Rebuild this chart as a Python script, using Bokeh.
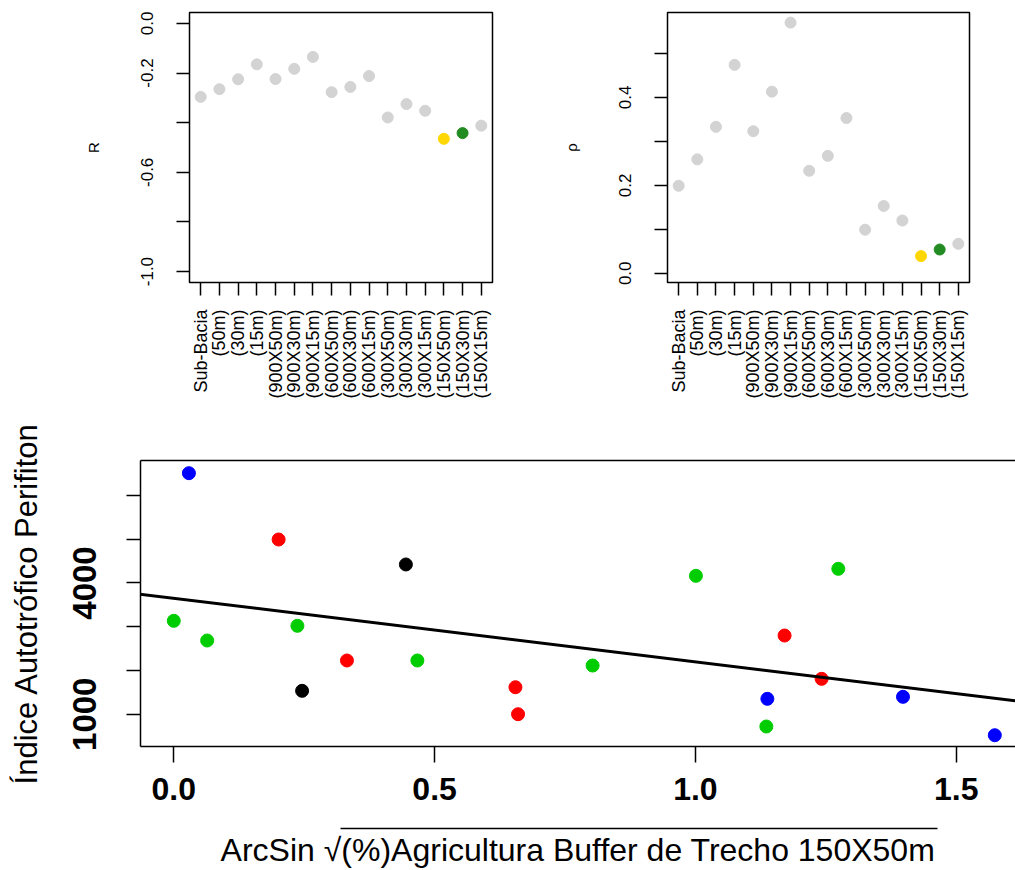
import numpy as np
from bokeh.plotting import figure
from bokeh.layouts import column, row
from bokeh.models import FixedTicker, Range1d, LinearAxis, Slope
from bokeh.embed import file_html
from bokeh.resources import INLINE

# ---------------- data ----------------
escalas = ["Sub-Bacia", "(50m)", "(30m)", "(15m)", "(900X50m)", "(900X30m)",
           "(900X15m)", "(600X50m)", "(600X30m)", "(600X15m)", "(300X50m)",
           "(300X30m)", "(300X15m)", "(150X50m)", "(150X30m)", "(150X15m)"]
r_valores = [-0.296, -0.265, -0.225, -0.165, -0.224, -0.183, -0.135, -0.277,
             -0.256, -0.212, -0.379, -0.325, -0.352, -0.465, -0.442, -0.412]
p_valores = [0.199, 0.259, 0.333, 0.474, 0.323, 0.413, 0.570, 0.233,
             0.267, 0.353, 0.099, 0.153, 0.120, 0.039, 0.054, 0.067]

r_ticks = [0.0, -0.2, -0.4, -0.6, -0.8, -1.0]
r_tick_labels = ["0.0", "-0.2", "", "-0.6", "", "-1.0"]
p_ticks = [0.0, 0.1, 0.2, 0.3, 0.4, 0.5]
p_tick_labels = ["0.0", "", "0.2", "", "0.4", ""]

x_agric = [0.029, 1.138, 1.398, 1.574,
           0.201, 0.332, 0.655, 0.660, 1.171, 1.242,
           0.000, 0.064, 0.237, 0.467, 0.803, 1.001, 1.274, 1.136,
           0.445, 0.246]
y_indice = [6510, 1352, 1398, 520,
            4994, 2228, 1617, 1000, 2799, 1809,
            3135, 2685, 3021, 2228, 2113, 4164, 4324, 719,
            4423, 1535]
grupo = ["azul"] * 4 + ["vermelho"] * 6 + ["verde"] * 8 + ["preto"] * 2

x_ticks = [0.0, 0.5, 1.0, 1.5]
x_tick_labels = ["0.0", "0.5", "1.0", "1.5"]
y_ticks = [1000, 2000, 3000, 4000, 5000, 6000]
y_tick_labels = ["1000", "", "", "4000", "", ""]

# ---------------- styles ----------------
FONT = "Liberation Sans"
destaque = {"(150X50m)": "#FFD700", "(150X30m)": "#228B22"}
cinza = "#D3D3D3"
paleta = {"azul": "#0000FF", "vermelho": "#FF0000", "verde": "#00CD00", "preto": "#000000"}


def top_fig(vals, yr, yticks, ylabels, ylab, width, mb_left, mb_right):
    p = figure(width=width, height=420, x_range=Range1d(0.4, 16.6), y_range=Range1d(*yr),
               output_backend="svg", toolbar_location=None,
               min_border_left=mb_left, min_border_right=mb_right,
               min_border_top=12, min_border_bottom=138)
    p.grid.visible = False
    p.outline_line_color = "black"
    p.outline_line_width = 1.5
    p.outline_line_alpha = 1.0
    cores = [destaque.get(c, cinza) for c in escalas]
    xs = list(range(1, len(escalas) + 1))
    p.scatter(x=xs, y=vals, size=11, fill_color=cores, line_color=cores)

    xa = p.xaxis[0]
    xa.ticker = FixedTicker(ticks=xs)
    xa.major_label_overrides = {i: n for i, n in zip(xs, escalas)}
    xa.major_label_orientation = np.pi / 2
    xa.major_label_text_font = FONT
    xa.major_label_text_font_size = "18px"
    xa.major_label_text_color = "black"
    xa.major_label_standoff = 14
    xa.axis_line_color = None
    xa.major_tick_out = 13
    xa.major_tick_in = 0
    xa.major_tick_line_width = 1.5
    xa.minor_tick_line_color = None

    ya = p.yaxis[0]
    ya.ticker = FixedTicker(ticks=yticks)
    ya.major_label_overrides = {t: l for t, l in zip(yticks, ylabels)}
    ya.major_label_orientation = "vertical"
    ya.major_label_text_font = FONT
    ya.major_label_text_font_size = "17px"
    ya.major_label_text_color = "black"
    ya.major_label_standoff = 23
    ya.axis_line_color = None
    ya.major_tick_out = 13
    ya.major_tick_in = 0
    ya.major_tick_line_width = 1.5
    ya.minor_tick_line_color = None
    ya.axis_label = ylab
    ya.axis_label_text_font = FONT
    ya.axis_label_text_font_size = "15px"
    ya.axis_label_text_font_style = "normal"
    ya.axis_label_text_color = "black"
    ya.axis_label_standoff = 37
    return p


p1 = top_fig(r_valores, (-1.044, 0.044), r_ticks, r_tick_labels, "R", 530, 189, 38)
p2 = top_fig(p_valores, (-0.021, 0.593), p_ticks, p_tick_labels, "ρ", 485, 137, 46)

# ---------------- bottom scatter ----------------
p3 = figure(width=1015, height=450, x_range=Range1d(-0.0638, 1.6137), y_range=Range1d(262, 6800),
            output_backend="svg", toolbar_location=None,
            min_border_left=140, min_border_right=0, min_border_top=40, min_border_bottom=124)
p3.grid.visible = False
p3.outline_line_color = None

cores3 = [paleta[g] for g in grupo]
p3.scatter(x=x_agric, y=y_indice, size=13, fill_color=cores3, line_color=cores3)

coef = np.polyfit(np.array(x_agric), np.array(y_indice), 1)
p3.add_layout(Slope(gradient=float(coef[0]), y_intercept=float(coef[1]),
                    line_color="black", line_width=3))

xa = p3.xaxis[0]
xa.ticker = FixedTicker(ticks=x_ticks)
xa.major_label_overrides = {t: l for t, l in zip(x_ticks, x_tick_labels)}
xa.major_label_text_font = FONT
xa.major_label_text_font_size = "32px"
xa.major_label_text_font_style = "bold"
xa.major_label_text_color = "black"
xa.major_label_standoff = 15
xa.axis_line_color = "black"
xa.axis_line_width = 1.5
xa.major_tick_out = 16
xa.major_tick_in = 0
xa.major_tick_line_width = 1.5
xa.minor_tick_line_color = None
# small blank label only to leave a gap before the radical's overline
xa.axis_label = " "
xa.axis_label_text_font = FONT
xa.axis_label_text_font_size = "10px"
xa.axis_label_text_line_height = 1.0
xa.axis_label_standoff = 12

# second bottom axis: its bounded axis line is the overline of the square root,
# and it carries the x title
xl = LinearAxis(ticker=FixedTicker(ticks=[]), bounds=(0.3196, 1.4642),
                axis_line_color="black", axis_line_width=1.5,
                major_tick_line_color=None, minor_tick_line_color=None,
                major_label_text_font_size="0px",
                axis_label="ArcSin √(%)Agricultura Buffer de Trecho 150X50m",
                axis_label_text_font=FONT, axis_label_text_font_size="32px",
                axis_label_text_font_style="normal", axis_label_text_color="black",
                axis_label_text_line_height=1.0, axis_label_standoff=3)
p3.add_layout(xl, "below")

ya = p3.yaxis[0]
ya.ticker = FixedTicker(ticks=y_ticks)
ya.major_label_overrides = {t: l for t, l in zip(y_ticks, y_tick_labels)}
ya.major_label_orientation = "vertical"
ya.major_label_text_font = FONT
ya.major_label_text_font_size = "33px"
ya.major_label_text_font_style = "bold"
ya.major_label_text_color = "black"
ya.major_label_standoff = 30
ya.axis_line_color = "black"
ya.axis_line_width = 1.5
ya.major_tick_out = 14
ya.major_tick_in = 0
ya.major_tick_line_width = 1.5
ya.minor_tick_line_color = None
ya.axis_label = "Índice Autotrófico Perifiton"
ya.axis_label_text_font = FONT
ya.axis_label_text_font_size = "31px"
ya.axis_label_text_font_style = "normal"
ya.axis_label_text_color = "black"
ya.axis_label_standoff = 27

top_axis = LinearAxis(ticker=FixedTicker(ticks=[]), axis_line_color="black", axis_line_width=1.5,
                      major_tick_line_color=None, minor_tick_line_color=None,
                      major_label_text_font_size="0px")
p3.add_layout(top_axis, "above")

layout = column(row(p1, p2, spacing=0), p3, spacing=0)
open("out.html", "w").write(file_html(layout, INLINE))
